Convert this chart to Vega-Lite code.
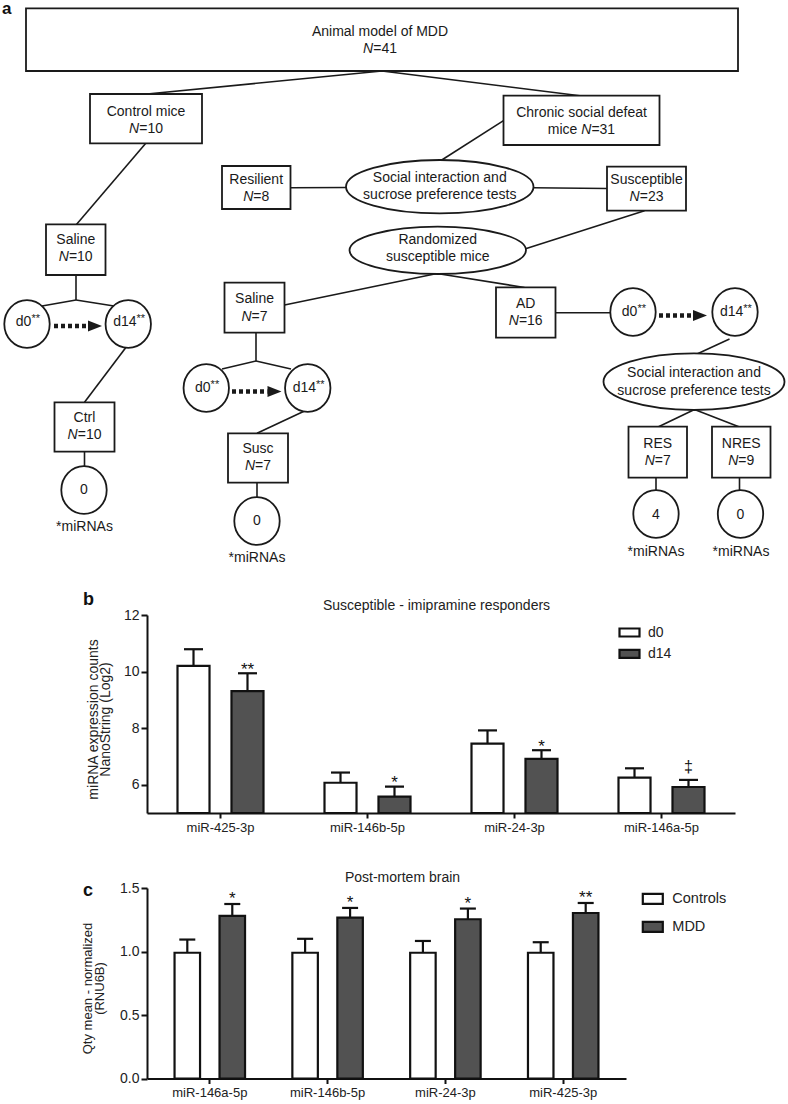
{
  "$schema": "https://vega.github.io/schema/vega-lite/v6.json",
  "background": "white",
  "padding": 0,
  "spacing": 75,
  "bounds": "flush",
  "resolve": {"scale": {"fill": "independent", "xOffset": "independent", "x": "independent", "y": "independent"}, "legend": {"fill": "independent"}},
  "config": {
    "view": {"stroke": null},
    "font": "Liberation Sans",
    "axis": {"labelFont": "Liberation Sans", "titleFont": "Liberation Sans", "domainColor": "#111", "tickColor": "#111", "labelColor": "#222", "titleColor": "#222", "domainWidth": 2, "tickWidth": 2, "grid": false, "titleFontWeight": "normal"},
    "legend": {"labelFont": "Liberation Sans", "labelColor": "#222"},
    "title": {"font": "Liberation Sans", "color": "#111"}
  },
  "vconcat": [
    {
      "width": 643,
      "height": 540,
      "layer": [
        {
          "data": {"values": [
            {"x1": 380, "y1": 71, "x2": 145, "y2": 94},
            {"x1": 380, "y1": 71, "x2": 580, "y2": 96},
            {"x1": 144, "y1": 143, "x2": 74, "y2": 225},
            {"x1": 501.5, "y1": 120.7, "x2": 439, "y2": 160.5},
            {"x1": 288.5, "y1": 187.7, "x2": 345, "y2": 187.5},
            {"x1": 531, "y1": 187.7, "x2": 605, "y2": 188.5},
            {"x1": 642.5, "y1": 210.7, "x2": 522, "y2": 249.3},
            {"x1": 435, "y1": 273.5, "x2": 282.5, "y2": 305},
            {"x1": 435, "y1": 273.5, "x2": 522.5, "y2": 287.5},
            {"x1": 553.5, "y1": 312.7, "x2": 609, "y2": 312.7},
            {"x1": 727.5, "y1": 339, "x2": 695, "y2": 354},
            {"x1": 692.5, "y1": 409.5, "x2": 656, "y2": 427},
            {"x1": 692.5, "y1": 409.5, "x2": 737.5, "y2": 427},
            {"x1": 654, "y1": 477.7, "x2": 654, "y2": 490},
            {"x1": 737.5, "y1": 477.7, "x2": 737.5, "y2": 490},
            {"x1": 74, "y1": 275, "x2": 74, "y2": 300},
            {"x1": 74, "y1": 300, "x2": 40, "y2": 306},
            {"x1": 74, "y1": 300, "x2": 112, "y2": 306},
            {"x1": 125, "y1": 346, "x2": 82.5, "y2": 402.3},
            {"x1": 82.5, "y1": 451.7, "x2": 82.5, "y2": 466},
            {"x1": 254, "y1": 332.7, "x2": 254, "y2": 361},
            {"x1": 254, "y1": 361, "x2": 220, "y2": 369},
            {"x1": 254, "y1": 361, "x2": 289, "y2": 369},
            {"x1": 302.5, "y1": 411, "x2": 255, "y2": 433.3},
            {"x1": 255, "y1": 482.7, "x2": 255, "y2": 497}
          ]},
          "mark": {"type": "rule", "stroke": "#1a1a1a", "strokeWidth": 1.6},
          "encoding": {
            "x": {"field": "x1", "type": "quantitative", "scale": {"domain": [145, 788], "nice": false, "zero": false}, "axis": null},
            "y": {"field": "y1", "type": "quantitative", "scale": {"domain": [0, 540], "nice": false, "zero": false, "reverse": true}, "axis": null},
            "x2": {"field": "x2"},
            "y2": {"field": "y2"}
          }
        },
        {
          "data": {"values": [
            {"xs": 52, "xe": 86, "y": 326, "xh": 93},
            {"xs": 230, "xe": 265.5, "y": 391.5, "xh": 272.5},
            {"xs": 657, "xe": 691, "y": 315.5, "xh": 698}
          ]},
          "layer": [
            {
              "mark": {"type": "rule", "stroke": "#1a1a1a", "strokeWidth": 4.5, "strokeDash": [4, 3], "strokeCap": "butt"},
              "encoding": {
                "x": {"field": "xs", "type": "quantitative", "scale": {"domain": [145, 788], "nice": false, "zero": false}, "axis": null},
                "x2": {"field": "xe"},
                "y": {"field": "y", "type": "quantitative", "scale": {"domain": [0, 540], "nice": false, "zero": false, "reverse": true}, "axis": null}
              }
            },
            {
              "mark": {"type": "point", "filled": true, "fill": "#1a1a1a", "strokeWidth": 0, "size": 4, "opacity": 1, "shape": "M -7 -5.5 L 7 0 L -7 5.5 Z"},
              "encoding": {
                "x": {"field": "xh", "type": "quantitative", "scale": {"domain": [145, 788], "nice": false, "zero": false}, "axis": null},
                "y": {"field": "y", "type": "quantitative", "scale": {"domain": [0, 540], "nice": false, "zero": false, "reverse": true}, "axis": null}
              }
            }
          ]
        },
        {
          "data": {"values": [
            {"x1": 24, "x2": 736, "y1": 8.3, "y2": 71},
            {"x1": 88, "x2": 200, "y1": 94, "y2": 143.3},
            {"x1": 501.5, "x2": 657.5, "y1": 95.7, "y2": 145},
            {"x1": 220, "x2": 288.5, "y1": 166, "y2": 209},
            {"x1": 605, "x2": 684, "y1": 166.7, "y2": 210.7},
            {"x1": 44, "x2": 103.5, "y1": 224.3, "y2": 275},
            {"x1": 222.5, "x2": 282.5, "y1": 282.7, "y2": 332.7},
            {"x1": 494, "x2": 553.5, "y1": 287.3, "y2": 337.7},
            {"x1": 52.5, "x2": 112.5, "y1": 402.3, "y2": 451.7},
            {"x1": 226, "x2": 286, "y1": 433.3, "y2": 482.7},
            {"x1": 626.5, "x2": 685, "y1": 426.7, "y2": 477.7},
            {"x1": 710, "x2": 768.5, "y1": 426.7, "y2": 477.7}
          ]},
          "mark": {"type": "rect", "fill": "white", "stroke": "#1a1a1a", "strokeWidth": 1.8},
          "encoding": {
            "x": {"field": "x1", "type": "quantitative", "scale": {"domain": [145, 788], "nice": false, "zero": false}, "axis": null},
            "x2": {"field": "x2"},
            "y": {"field": "y1", "type": "quantitative", "scale": {"domain": [0, 540], "nice": false, "zero": false, "reverse": true}, "axis": null},
            "y2": {"field": "y2"}
          }
        },
        {
          "data": {"values": [
            {"cx": 437.75, "cy": 186.7, "kind": "s1"},
            {"cx": 435.75, "cy": 250.3, "kind": "rand"},
            {"cx": 692, "cy": 381.7, "kind": "s2"},
            {"cx": 25, "cy": 324, "kind": "small"},
            {"cx": 126.25, "cy": 324, "kind": "small"},
            {"cx": 204.25, "cy": 388, "kind": "small"},
            {"cx": 305.75, "cy": 388, "kind": "small"},
            {"cx": 631, "cy": 312, "kind": "small"},
            {"cx": 733, "cy": 312, "kind": "small"},
            {"cx": 82, "cy": 490, "kind": "small"},
            {"cx": 255, "cy": 521, "kind": "small"},
            {"cx": 654, "cy": 514, "kind": "small"},
            {"cx": 738.5, "cy": 514, "kind": "small"}
          ]},
          "mark": {"type": "point", "filled": true, "fill": "white", "stroke": "#1a1a1a", "strokeWidth": 1.8, "size": 4, "opacity": 1},
          "encoding": {
            "x": {"field": "cx", "type": "quantitative", "scale": {"domain": [145, 788], "nice": false, "zero": false}, "axis": null},
            "y": {"field": "cy", "type": "quantitative", "scale": {"domain": [0, 540], "nice": false, "zero": false, "reverse": true}, "axis": null},
            "shape": {"field": "kind", "type": "nominal", "legend": null, "scale": {
              "domain": ["s1", "s2", "rand", "small"],
              "range": [
                "M 93.75 0 C 93.75 14.75 51.78 26.7 0 26.7 C -51.78 26.7 -93.75 14.75 -93.75 0 C -93.75 -14.75 -51.78 -26.7 0 -26.7 C 51.78 -26.7 93.75 -14.75 93.75 0 Z",
                "M 90.5 0 C 90.5 15.63 49.98 28.3 0 28.3 C -49.98 28.3 -90.5 15.63 -90.5 0 C -90.5 -15.63 -49.98 -28.3 0 -28.3 C 49.98 -28.3 90.5 -15.63 90.5 0 Z",
                "M 88.25 0 C 88.25 13.09 48.74 23.7 0 23.7 C -48.74 23.7 -88.25 13.09 -88.25 0 C -88.25 -13.09 -48.74 -23.7 0 -23.7 C 48.74 -23.7 88.25 -13.09 88.25 0 Z",
                "M 22.7 0 C 22.7 13.2 12.54 23.9 0 23.9 C -12.54 23.9 -22.7 13.2 -22.7 0 C -22.7 -13.2 -12.54 -23.9 0 -23.9 C 12.54 -23.9 22.7 -13.2 22.7 0 Z"
              ]}}
          }
        },
        {
          "data": {"values": [
            {"t": "Animal model of MDD", "x": 378, "y": 32.3},
            {"t": "Control mice", "x": 144, "y": 112},
            {"t": "Chronic social defeat", "x": 579.5, "y": 113.3},
            {"t": "Resilient", "x": 254.2, "y": 180},
            {"t": "Susceptible", "x": 644.5, "y": 180},
            {"t": "Social interaction and", "x": 437.75, "y": 177.7},
            {"t": "sucrose preference tests", "x": 437.75, "y": 195},
            {"t": "Randomized", "x": 435.75, "y": 240},
            {"t": "susceptible mice", "x": 435.75, "y": 257.3},
            {"t": "Saline", "x": 73.75, "y": 240},
            {"t": "Saline", "x": 252.5, "y": 298.5},
            {"t": "AD", "x": 523.75, "y": 304},
            {"t": "Social interaction and", "x": 692, "y": 373.3},
            {"t": "sucrose preference tests", "x": 692, "y": 391},
            {"t": "Ctrl", "x": 82.5, "y": 417.7},
            {"t": "Susc", "x": 256, "y": 449.3},
            {"t": "RES", "x": 655.75, "y": 444},
            {"t": "NRES", "x": 739.25, "y": 444},
            {"t": "0", "x": 82, "y": 490},
            {"t": "0", "x": 255, "y": 520.7},
            {"t": "4", "x": 654, "y": 515},
            {"t": "0", "x": 738.5, "y": 515},
            {"t": "*miRNAs", "x": 82.5, "y": 527.3},
            {"t": "*miRNAs", "x": 255, "y": 558.3},
            {"t": "*miRNAs", "x": 654, "y": 551.7},
            {"t": "*miRNAs", "x": 739, "y": 551.7}
          ]},
          "mark": {"type": "text", "fontSize": 14, "align": "center", "baseline": "middle", "fill": "#1a1a1a"},
          "encoding": {
            "x": {"field": "x", "type": "quantitative", "scale": {"domain": [145, 788], "nice": false, "zero": false}, "axis": null},
            "y": {"field": "y", "type": "quantitative", "scale": {"domain": [0, 540], "nice": false, "zero": false, "reverse": true}, "axis": null},
            "text": {"field": "t", "type": "nominal"}
          }
        },
        {
          "data": {"values": [
            {"d": "d0", "x": 26.4, "y": 322.3},
            {"d": "d14", "x": 131.5, "y": 322.3},
            {"d": "d0", "x": 205.6, "y": 387.7},
            {"d": "d14", "x": 311, "y": 387.7},
            {"d": "d0", "x": 632.4, "y": 311.7},
            {"d": "d14", "x": 738.3, "y": 311.7}
          ]},
          "encoding": {
            "x": {"field": "x", "type": "quantitative", "scale": {"domain": [145, 788], "nice": false, "zero": false}, "axis": null},
            "y": {"field": "y", "type": "quantitative", "scale": {"domain": [0, 540], "nice": false, "zero": false, "reverse": true}, "axis": null}
          },
          "layer": [
            {
              "mark": {"type": "text", "fontSize": 14, "align": "right", "baseline": "middle", "dx": 3, "fill": "#1a1a1a"},
              "encoding": {"text": {"field": "d", "type": "nominal"}}
            },
            {
              "mark": {"type": "text", "fontSize": 11, "align": "left", "baseline": "middle", "dx": 3, "dy": -3, "fill": "#1a1a1a", "color": "#1a1a1a", "text": "**"}
            }
          ]
        },
        {
          "data": {"values": [
            {"n": "N", "ax": 371.2, "y": 49.3, "num": "=41", "pre": ""},
            {"n": "N", "ax": 137.2, "y": 128.7, "num": "=10", "pre": ""},
            {"n": "N", "ax": 589.4, "y": 130, "num": "=31", "pre": "mice"},
            {"n": "N", "ax": 251.3, "y": 196.7, "num": "=8", "pre": ""},
            {"n": "N", "ax": 637.7, "y": 196.7, "num": "=23", "pre": ""},
            {"n": "N", "ax": 66.9, "y": 257.3, "num": "=10", "pre": ""},
            {"n": "N", "ax": 249.6, "y": 316.7, "num": "=7", "pre": ""},
            {"n": "N", "ax": 516.9, "y": 321, "num": "=16", "pre": ""},
            {"n": "N", "ax": 75.7, "y": 435, "num": "=10", "pre": ""},
            {"n": "N", "ax": 253.1, "y": 466, "num": "=7", "pre": ""},
            {"n": "N", "ax": 652.8, "y": 461, "num": "=7", "pre": ""},
            {"n": "N", "ax": 736.3, "y": 461, "num": "=9", "pre": ""}
          ]},
          "encoding": {
            "x": {"field": "ax", "type": "quantitative", "scale": {"domain": [145, 788], "nice": false, "zero": false}, "axis": null},
            "y": {"field": "y", "type": "quantitative", "scale": {"domain": [0, 540], "nice": false, "zero": false, "reverse": true}, "axis": null}
          },
          "layer": [
            {
              "mark": {"type": "text", "fontSize": 14, "align": "right", "baseline": "middle", "fontStyle": "italic", "fill": "#1a1a1a"},
              "encoding": {"text": {"field": "n", "type": "nominal"}}
            },
            {
              "mark": {"type": "text", "fontSize": 14, "align": "left", "baseline": "middle", "fill": "#1a1a1a"},
              "encoding": {"text": {"field": "num", "type": "nominal"}}
            },
            {
              "transform": [{"filter": "datum.pre !== ''"}],
              "mark": {"type": "text", "fontSize": 14, "align": "right", "baseline": "middle", "dx": -14, "fill": "#1a1a1a"},
              "encoding": {"text": {"field": "pre", "type": "nominal"}}
            }
          ]
        },
        {
          "data": {"values": [{"t": "a", "x": 0, "y": 14}]},
          "mark": {"type": "text", "fontSize": 17, "fontWeight": "bold", "align": "left", "baseline": "alphabetic", "fill": "#111"},
          "encoding": {
            "x": {"field": "x", "type": "quantitative", "scale": {"domain": [145, 788], "nice": false, "zero": false}, "axis": null},
            "y": {"field": "y", "type": "quantitative", "scale": {"domain": [0, 540], "nice": false, "zero": false, "reverse": true}, "axis": null},
            "text": {"field": "t", "type": "nominal"}
          }
        }
      ]
    },
    {
      "width": 588,
      "height": 198,
      "title": {"text": "b", "anchor": "start", "frame": "group", "dx": -64, "fontSize": 18, "fontWeight": "bold", "baseline": "alphabetic", "offset": -25},
      "data": {"values": [
        {"mirna": "miR-425-3p", "group": "d0", "mean": 10.2, "upper": 10.79, "sig": ""},
        {"mirna": "miR-425-3p", "group": "d14", "mean": 9.31, "upper": 9.94, "sig": "**"},
        {"mirna": "miR-146b-5p", "group": "d0", "mean": 6.07, "upper": 6.43, "sig": ""},
        {"mirna": "miR-146b-5p", "group": "d14", "mean": 5.58, "upper": 5.93, "sig": "*"},
        {"mirna": "miR-24-3p", "group": "d0", "mean": 7.45, "upper": 7.92, "sig": ""},
        {"mirna": "miR-24-3p", "group": "d14", "mean": 6.91, "upper": 7.22, "sig": "*"},
        {"mirna": "miR-146a-5p", "group": "d0", "mean": 6.25, "upper": 6.58, "sig": ""},
        {"mirna": "miR-146a-5p", "group": "d14", "mean": 5.92, "upper": 6.17, "sig": "‡"}
      ]},
      "layer": [
        {
          "mark": {"type": "bar", "stroke": "#111", "strokeWidth": 2.2},
          "encoding": {
            "x": {"field": "mirna", "type": "nominal", "sort": null, "scale": {"domain": ["miR-425-3p", "miR-146b-5p", "miR-24-3p", "miR-146a-5p"], "paddingInner": 0, "paddingOuter": 0}, "axis": {"title": null, "labelAngle": 0, "labelFontSize": 13, "tickSize": 5, "labelPadding": 3}},
            "xOffset": {"field": "group", "type": "nominal", "scale": {"domain": ["d0", "d14"], "paddingInner": 0.407, "paddingOuter": 0.565}},
            "y": {"field": "mean", "type": "quantitative", "scale": {"domain": [5, 12], "nice": false, "zero": false}, "axis": {"values": [6, 8, 10, 12], "title": ["miRNA expression counts", "NanoString (Log2)"], "titleFontSize": 14, "titleLineHeight": 12, "titleX": -46.5, "titleY": 104, "titleAngle": -90, "titleAlign": "center", "titleBaseline": "bottom", "titleLimit": 0, "labelFontSize": 14, "tickSize": 6, "labelPadding": 2}},
            "y2": {"datum": 5},
            "fill": {"field": "group", "type": "nominal", "scale": {"domain": ["d0", "d14"], "range": ["#ffffff", "#525252"]}, "legend": {"orient": "none", "legendX": 471, "legendY": 6, "title": null, "symbolType": "M -1 -0.4 L 1 -0.4 L 1 0.4 L -1 0.4 Z", "symbolSize": 400, "symbolStrokeColor": "#111", "symbolStrokeWidth": 2.2, "symbolOpacity": 1, "labelFontSize": 14, "labelOffset": 7, "rowPadding": 1.3, "padding": 0}}
          }
        },
        {
          "mark": {"type": "rule", "stroke": "#111", "strokeWidth": 2.2},
          "encoding": {
            "x": {"field": "mirna", "type": "nominal", "sort": null, "axis": {"orient": "top", "labels": false, "ticks": false, "domain": false, "title": "Susceptible - imipramine responders", "titleFontSize": 14, "titleX": 289, "titleY": -10, "titleBaseline": "middle", "titleAlign": "center", "titleAngle": 0}},
            "xOffset": {"field": "group", "type": "nominal"},
            "y": {"field": "mean", "type": "quantitative", "axis": null},
            "y2": {"field": "upper"}
          }
        },
        {
          "mark": {"type": "tick", "thickness": 2.2, "size": 19, "color": "#111", "opacity": 1},
          "encoding": {
            "x": {"field": "mirna", "type": "nominal", "sort": null, "axis": null},
            "xOffset": {"field": "group", "type": "nominal"},
            "y": {"field": "upper", "type": "quantitative", "axis": null}
          }
        },
        {
          "transform": [{"filter": "datum.sig !== '' && datum.sig !== '‡'"}],
          "mark": {"type": "text", "baseline": "alphabetic", "dy": 1.5, "fontSize": 17, "fill": "#111"},
          "encoding": {
            "x": {"field": "mirna", "type": "nominal", "sort": null, "axis": null},
            "xOffset": {"field": "group", "type": "nominal"},
            "y": {"field": "upper", "type": "quantitative", "axis": null},
            "text": {"field": "sig", "type": "nominal"}
          }
        },
        {
          "transform": [{"filter": "datum.sig === '‡'"}],
          "mark": {"type": "text", "baseline": "alphabetic", "dy": -8, "fontSize": 16, "fill": "#111"},
          "encoding": {
            "x": {"field": "mirna", "type": "nominal", "sort": null, "axis": null},
            "xOffset": {"field": "group", "type": "nominal"},
            "y": {"field": "upper", "type": "quantitative", "axis": null},
            "text": {"field": "sig", "type": "nominal"}
          }
        }
      ],
      "resolve": {"axis": {"x": "independent", "y": "independent"}}
    },
    {
      "width": 479,
      "height": 190.5,
      "title": {"text": "c", "anchor": "start", "frame": "group", "dx": -64, "fontSize": 18, "fontWeight": "bold", "baseline": "alphabetic", "offset": -44},
      "data": {"values": [
        {"mirna": "miR-146a-5p", "group": "Controls", "mean": 0.99, "upper": 1.094, "sig": ""},
        {"mirna": "miR-146a-5p", "group": "MDD", "mean": 1.28, "upper": 1.374, "sig": "*"},
        {"mirna": "miR-146b-5p", "group": "Controls", "mean": 0.99, "upper": 1.1, "sig": ""},
        {"mirna": "miR-146b-5p", "group": "MDD", "mean": 1.267, "upper": 1.343, "sig": "*"},
        {"mirna": "miR-24-3p", "group": "Controls", "mean": 0.99, "upper": 1.083, "sig": ""},
        {"mirna": "miR-24-3p", "group": "MDD", "mean": 1.254, "upper": 1.338, "sig": "*"},
        {"mirna": "miR-425-3p", "group": "Controls", "mean": 0.99, "upper": 1.073, "sig": ""},
        {"mirna": "miR-425-3p", "group": "MDD", "mean": 1.303, "upper": 1.382, "sig": "**"}
      ]},
      "layer": [
        {
          "mark": {"type": "bar", "stroke": "#111", "strokeWidth": 2.2},
          "encoding": {
            "x": {"field": "mirna", "type": "nominal", "sort": null, "scale": {"domain": ["miR-146a-5p", "miR-146b-5p", "miR-24-3p", "miR-425-3p"], "paddingInner": 0, "paddingOuter": 0.033}, "axis": {"title": null, "labelAngle": 0, "labelFontSize": 13, "tickSize": 5, "labelPadding": 3}},
            "xOffset": {"field": "group", "type": "nominal", "scale": {"domain": ["Controls", "MDD"], "paddingInner": 0.433, "paddingOuter": 0.526}},
            "y": {"field": "mean", "type": "quantitative", "scale": {"domain": [0, 1.5], "nice": false, "zero": false}, "axis": {"values": [0, 0.5, 1, 1.5], "format": ".1f", "title": ["Qty mean - normalized", "(RNU6B)"], "titleFontSize": 13, "titleLineHeight": 12, "titleX": -53, "titleY": 100, "titleAngle": -90, "titleAlign": "center", "titleBaseline": "bottom", "titleLimit": 0, "labelFontSize": 14, "tickSize": 6, "labelPadding": 2}},
            "y2": {"datum": 0},
            "fill": {"field": "group", "type": "nominal", "scale": {"domain": ["Controls", "MDD"], "range": ["#ffffff", "#525252"]}, "legend": {"orient": "none", "legendX": 494.3, "legendY": -0.7, "title": null, "symbolType": "M -1 -0.5 L 1 -0.5 L 1 0.5 L -1 0.5 Z", "symbolSize": 400, "symbolStrokeColor": "#111", "symbolStrokeWidth": 2.2, "symbolOpacity": 1, "labelFontSize": 14.5, "labelOffset": 8, "rowPadding": 7, "padding": 0}}
          }
        },
        {
          "mark": {"type": "rule", "stroke": "#111", "strokeWidth": 2.2},
          "encoding": {
            "x": {"field": "mirna", "type": "nominal", "sort": null, "axis": {"orient": "top", "labels": false, "ticks": false, "domain": false, "title": "Post-mortem brain", "titleFontSize": 14, "titleX": 255, "titleY": -11, "titleBaseline": "middle", "titleAlign": "center", "titleAngle": 0}},
            "xOffset": {"field": "group", "type": "nominal"},
            "y": {"field": "mean", "type": "quantitative", "axis": null},
            "y2": {"field": "upper"}
          }
        },
        {
          "mark": {"type": "tick", "thickness": 2.2, "size": 16, "color": "#111", "opacity": 1},
          "encoding": {
            "x": {"field": "mirna", "type": "nominal", "sort": null, "axis": null},
            "xOffset": {"field": "group", "type": "nominal"},
            "y": {"field": "upper", "type": "quantitative", "axis": null}
          }
        },
        {
          "transform": [{"filter": "datum.sig !== ''"}],
          "mark": {"type": "text", "baseline": "alphabetic", "dy": 0, "fontSize": 17, "fill": "#111"},
          "encoding": {
            "x": {"field": "mirna", "type": "nominal", "sort": null, "axis": null},
            "xOffset": {"field": "group", "type": "nominal"},
            "y": {"field": "upper", "type": "quantitative", "axis": null},
            "text": {"field": "sig", "type": "nominal"}
          }
        }
      ],
      "resolve": {"axis": {"x": "independent", "y": "independent"}}
    }
  ]
}
